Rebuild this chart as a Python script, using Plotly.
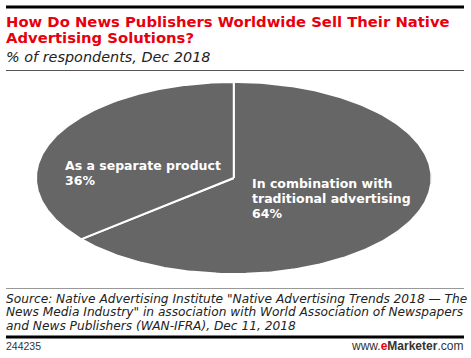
import numpy as np
import plotly.graph_objects as go

# ---- data ----
categories = ["In combination with traditional advertising", "As a separate product"]
label_lines = [["In combination with", "traditional advertising"], ["As a separate product"]]
values = [64, 36]

title_lines = ["How Do News Publishers Worldwide Sell Their Native", "Advertising Solutions?"]
subtitle = "% of respondents, Dec 2018"
source_lines = [
    'Source: Native Advertising Institute "Native Advertising Trends 2018 \u2014 The',
    'News Media Industry" in association with World Association of Newspapers',
    'and News Publishers (WAN-IFRA), Dec 11, 2018',
]
chart_id = "244235"

W, H = 471, 358
SLICE_COLOR = "#666666"
RED = "#e8000d"


def py(y):
    return 1 - y / H


def px(x):
    return x / W


fig = go.Figure()

# Elliptical pie drawn from values: start at 12 o'clock, clockwise
total = sum(values)
start = 0.0
for cat, v in zip(categories, values):
    frac = v / total
    th = np.linspace(start, start + frac * 2 * np.pi, 240)
    xs = np.concatenate([[0], np.sin(th), [0]])
    ys = np.concatenate([[0], np.cos(th), [0]])
    fig.add_trace(go.Scatter(
        x=xs, y=ys, mode="lines", fill="toself", fillcolor=SLICE_COLOR,
        line=dict(color="white", width=2), hoverinfo="text", text=cat,
        showlegend=False,
    ))
    start += frac * 2 * np.pi

# ellipse bounds in pixels
ex0, ex1 = 36, 431.5
ey0, ey1 = 82, 274
fig.update_xaxes(range=[-1, 1], domain=[px(ex0), px(ex1)], visible=False, fixedrange=True)
fig.update_yaxes(range=[-1, 1], domain=[py(ey1), py(ey0)], visible=False, fixedrange=True)

ann = []
TFONT = "DejaVu Sans"


def text_at(txt, x, baseline, size, color, family=TFONT, anchor="left"):
    ann.append(dict(text=txt, x=px(x), y=py(baseline - 0.35 * size), xanchor=anchor, yanchor="middle",
                    font=dict(family=family, size=size, color=color)))


# title
for i, line in enumerate(title_lines):
    text_at("<b>" + line + "</b>", 5, 26.7 + 16 * i, 14.8, RED)
text_at("<i>" + subtitle + "</i>", 5, 62, 14.4, "#222222")

# slice labels
left_lines = label_lines[1] + [f"{values[1]}%"]
for i, line in enumerate(left_lines):
    text_at("<b>" + line + "</b>", 64, 170 + 14.5 * i, 12.5, "white")
right_lines = label_lines[0] + [f"{values[0]}%"]
for i, line in enumerate(right_lines):
    text_at("<b>" + line + "</b>", 251, 188 + 15 * i, 12.5, "white")

# source
for i, line in enumerate(source_lines):
    text_at("<i>" + line + "</i>", 5, 303 + 13.5 * i, 12.2, "#222222")
text_at(chart_id, 5, 350, 10.5, "#333333", family="Liberation Sans")
text_at('www.<b><span style="color:%s">e</span>Marketer</b>.com' % RED, 464, 350, 12, "#333333",
        family="Liberation Sans", anchor="right")

for a in ann:
    a.update(xref="paper", yref="paper", showarrow=False, borderpad=0)

shapes = [
    dict(type="line", x0=px(6), x1=px(464), y0=py(7), y1=py(7), line=dict(color="black", width=3)),
    dict(type="line", x0=px(6), x1=px(464), y0=py(70.5), y1=py(70.5), line=dict(color="#555555", width=1)),
    dict(type="line", x0=px(6), x1=px(464), y0=py(288.5), y1=py(288.5), line=dict(color="#999999", width=1)),
    dict(type="line", x0=px(6), x1=px(464), y0=py(337), y1=py(337), line=dict(color="black", width=3)),
]
for s in shapes:
    s.update(xref="paper", yref="paper")

fig.update_layout(
    width=W, height=H, margin=dict(l=0, r=0, t=0, b=0),
    paper_bgcolor="white", plot_bgcolor="white",
    annotations=ann, shapes=shapes,
)
fig.write_html("out.html", config={"displayModeBar": False},
               post_script="document.body.style.margin='0';")
